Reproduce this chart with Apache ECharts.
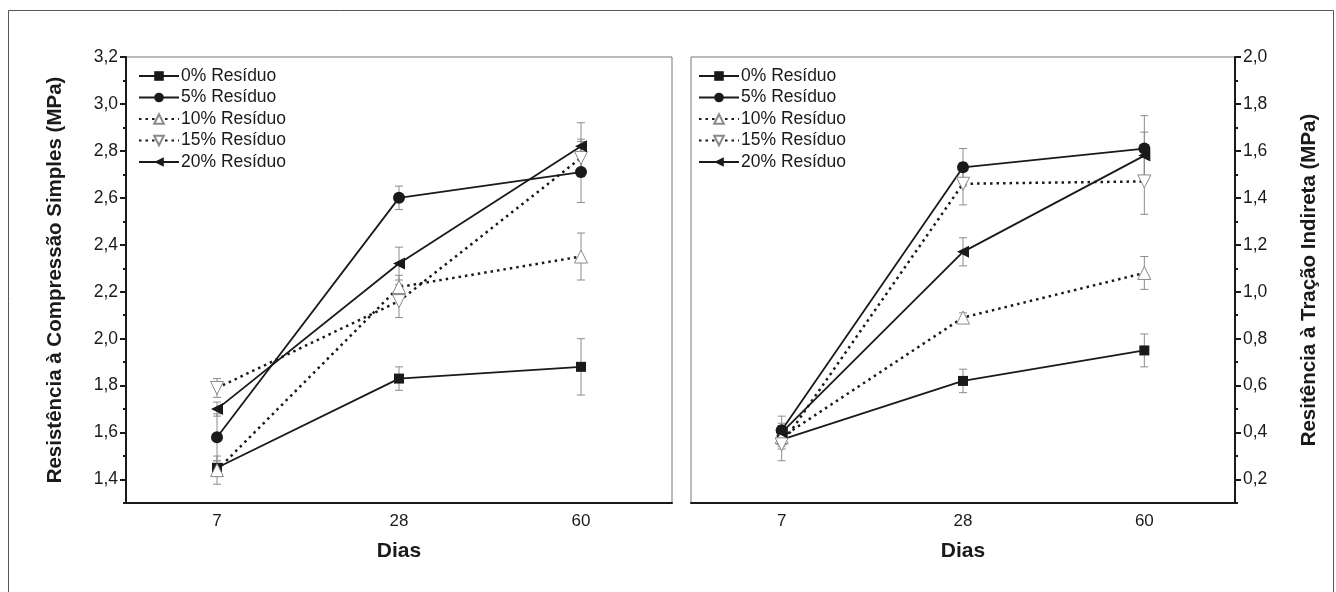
<!DOCTYPE html>
<html>
<head>
<meta charset="utf-8">
<script src="https://cdn.jsdelivr.net/npm/echarts@6/dist/echarts.min.js"></script>
<style>
  html, body { margin: 0; padding: 0; background: #fff; }
  #chart { width: 1336px; height: 592px; }
</style>
</head>
<body>
<div id="chart"></div>
<script>
// dias de cura
const days = ['7', '28', '60']
const names = ['0% Resíduo', '5% Resíduo', '10% Resíduo', '15% Resíduo', '20% Resíduo']

// resistência à compressão simples (MPa) e desvios
const comp0 = [1.45, 1.83, 1.88]
const comp5 = [1.58, 2.60, 2.71]
const comp10 = [1.44, 2.22, 2.35]
const comp15 = [1.79, 2.16, 2.77]
const comp20 = [1.70, 2.32, 2.82]
const compErr0 = [0.03, 0.05, 0.12]
const compErr5 = [0.10, 0.05, 0.13]
const compErr10 = [0.06, 0.05, 0.10]
const compErr15 = [0.04, 0.07, 0.08]
const compErr20 = [0.03, 0.07, 0.10]

// resistência à tração indireta (MPa) e desvios
const trac0 = [0.37, 0.62, 0.75]
const trac5 = [0.41, 1.53, 1.61]
const trac10 = [0.38, 0.89, 1.08]
const trac15 = [0.35, 1.46, 1.47]
const trac20 = [0.40, 1.17, 1.58]
const tracErr0 = [0.03, 0.05, 0.07]
const tracErr5 = [0.06, 0.08, 0.14]
const tracErr10 = [0.05, 0.02, 0.07]
const tracErr15 = [0.07, 0.09, 0.14]
const tracErr20 = [0.04, 0.06, 0.10]

// marcas dos eixos
const compMajor = [1.4, 1.6, 1.8, 2.0, 2.2, 2.4, 2.6, 2.8, 3.0, 3.2]
const compMinor = [1.3, 1.5, 1.7, 1.9, 2.1, 2.3, 2.5, 2.7, 2.9, 3.1]
const tracMajor = [0.2, 0.4, 0.6, 0.8, 1.0, 1.2, 1.4, 1.6, 1.8, 2.0]
const tracMinor = [0.1, 0.3, 0.5, 0.7, 0.9, 1.1, 1.3, 1.5, 1.7, 1.9]

const FONT = '"Liberation Sans", Arial, sans-serif'
const INK = '#1a1a1a'

const styles = [
  { symbol: 'rect', size: 10, rotate: 0, fill: INK, border: INK, dash: 'solid' },
  { symbol: 'circle', size: 12, rotate: 0, fill: INK, border: INK, dash: 'solid' },
  { symbol: 'triangle', size: 13, rotate: 0, fill: '#fff', border: '#8a8a8a', dash: [2.5, 4] },
  { symbol: 'triangle', size: 13, rotate: 180, fill: '#fff', border: '#8a8a8a', dash: [2.5, 4] },
  { symbol: 'triangle', size: 12, rotate: 90, fill: INK, border: INK, dash: 'solid' }
]

const fmt = (v) => v.toFixed(1).replace('.', ',')

function lineSeries(values, idx, gridIdx) {
  const s = styles[idx]
  return {
    name: names[idx],
    type: 'line',
    xAxisIndex: gridIdx * 2,
    yAxisIndex: gridIdx * 2,
    data: values,
    symbol: s.symbol,
    symbolSize: s.size,
    symbolRotate: s.rotate,
    showAllSymbol: true,
    z: 5,
    lineStyle: { color: INK, width: s.dash === 'solid' ? 1.8 : 2.5, type: s.dash },
    itemStyle: { color: s.fill, borderColor: s.border, borderWidth: s.fill === '#fff' ? 1 : 0 }
  }
}

function errSeries(values, errs, gridIdx) {
  const data = values.map((v, i) => [i, v - errs[i], v + errs[i]])
  return {
    type: 'custom',
    xAxisIndex: gridIdx * 2,
    yAxisIndex: gridIdx * 2,
    z: 3,
    silent: true,
    data: data,
    encode: { x: 0, y: [1, 2] },
    renderItem: function (params, api) {
      const lo = api.coord([api.value(0), api.value(1)])
      const hi = api.coord([api.value(0), api.value(2)])
      const w = 4
      const st = { stroke: '#8c8c8c', lineWidth: 1 }
      return {
        type: 'group',
        children: [
          { type: 'line', shape: { x1: lo[0], y1: lo[1], x2: hi[0], y2: hi[1] }, style: st },
          { type: 'line', shape: { x1: lo[0] - w, y1: lo[1], x2: lo[0] + w, y2: lo[1] }, style: st },
          { type: 'line', shape: { x1: hi[0] - w, y1: hi[1], x2: hi[0] + w, y2: hi[1] }, style: st }
        ]
      }
    }
  }
}

function xAxes(gridIdx) {
  return [
    {
      type: 'category',
      gridIndex: gridIdx,
      data: days,
      boundaryGap: true,
      position: 'bottom',
      name: 'Dias',
      nameLocation: 'middle',
      nameGap: 38,
      nameTextStyle: { fontFamily: FONT, fontSize: 21, fontWeight: 'bold', color: INK },
      axisLine: { lineStyle: { color: INK, width: 2 } },
      axisTick: { alignWithLabel: true, length: 6, lineStyle: { color: INK, width: 2 } },
      axisLabel: { fontFamily: FONT, fontSize: 17, color: INK, margin: 10 },
      splitLine: { show: false }
    },
    {
      type: 'category',
      gridIndex: gridIdx,
      data: days,
      boundaryGap: true,
      position: 'bottom',
      axisLine: { show: false },
      axisTick: { length: 3, lineStyle: { color: INK, width: 2 } },
      axisLabel: { show: false },
      splitLine: { show: false }
    }
  ]
}

function yAxes(gridIdx, min, max, major, minor, side, title, gap) {
  return [
    {
      type: 'value',
      gridIndex: gridIdx,
      position: side,
      min: min,
      max: max,
      name: title,
      nameLocation: 'middle',
      nameRotate: 90,
      nameGap: gap,
      nameTextStyle: { fontFamily: FONT, fontSize: 20.5, fontWeight: 'bold', color: INK },
      axisLine: { show: true, lineStyle: { color: INK, width: 2 } },
      axisTick: { show: true, customValues: major, length: 6, lineStyle: { color: INK, width: 2 } },
      axisLabel: { customValues: major, formatter: fmt, fontFamily: FONT, fontSize: 17.5, color: INK, margin: 8 },
      splitLine: { show: false }
    },
    {
      type: 'value',
      gridIndex: gridIdx,
      position: side,
      min: min,
      max: max,
      axisLine: { show: false },
      axisTick: { show: true, customValues: minor, length: 3, lineStyle: { color: INK, width: 2 } },
      axisLabel: { show: false },
      splitLine: { show: false }
    }
  ]
}

function legend(left) {
  return {
    data: names,
    orient: 'vertical',
    left: left,
    top: 62,
    itemWidth: 40,
    itemHeight: 12,
    itemGap: 3.5,
    selectedMode: false,
    textStyle: { fontFamily: FONT, fontSize: 17.5, color: INK, padding: [0, 0, 0, -3] }
  }
}

const compSets = [[comp0, compErr0], [comp5, compErr5], [comp10, compErr10], [comp15, compErr15], [comp20, compErr20]]
const tracSets = [[trac0, tracErr0], [trac5, tracErr5], [trac10, tracErr10], [trac15, tracErr15], [trac20, tracErr20]]

const series = []
compSets.forEach(([v, e], i) => {
  series.push(errSeries(v, e, 0))
  series.push(lineSeries(v, i, 0))
})
tracSets.forEach(([v, e], i) => {
  series.push(errSeries(v, e, 1))
  series.push(lineSeries(v, i, 1))
})

const option = {
  animation: false,
  backgroundColor: '#fff',
  grid: [
    { left: 126, top: 57, width: 546, height: 446, show: true, borderColor: '#777', borderWidth: 1, backgroundColor: 'transparent' },
    { left: 691, top: 57, width: 544, height: 446, show: true, borderColor: '#777', borderWidth: 1, backgroundColor: 'transparent' }
  ],
  legend: [legend(133), legend(693)],
  xAxis: [...xAxes(0), ...xAxes(1)],
  yAxis: [
    ...yAxes(0, 1.3, 3.2, compMajor, compMinor, 'left', 'Resistência à Compressão Simples (MPa)', 60),
    ...yAxes(1, 0.1, 2.0, tracMajor, tracMinor, 'right', 'Resitência à Tração Indireta (MPa)', 64)
  ],
  graphic: [
    { type: 'rect', shape: { x: 8.5, y: 10.5, width: 1325, height: 600 }, style: { fill: 'none', stroke: '#555', lineWidth: 1 }, silent: true }
  ],
  series: series
}

const chart = echarts.init(document.getElementById('chart'))
chart.setOption(option)
</script>
</body>
</html>
